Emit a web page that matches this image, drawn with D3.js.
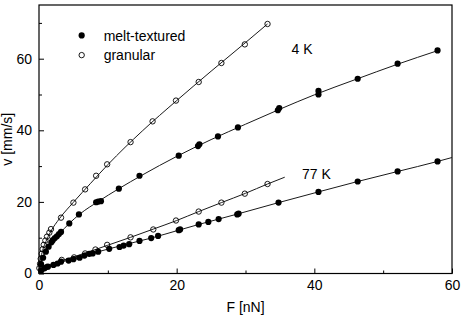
<!DOCTYPE html>
<html>
<head>
<meta charset="utf-8">
<script src="https://cdn.jsdelivr.net/npm/d3@7"></script>
<style>
  body { margin: 0; background: #fff; }
  text { font-family: "Liberation Sans", Arial, Helvetica, sans-serif; fill: #000; }
</style>
</head>
<body>
<svg id="chart" width="463" height="323"></svg>
<script>
// measured points [F nN, v mm/s]
const melt4K = [[0.3,2.6],[0.6,4.4],[1.0,6.1],[1.4,7.5],[1.8,8.7],[2.0,9.3],[2.3,9.9],[2.6,10.4],[2.9,11.0],[3.2,11.6],
  [4.4,14.0],[5.8,16.5],[8.3,19.9],[8.6,20.1],[9.0,20.2],[11.6,23.7],[14.6,27.3],[20.3,32.9],[23.1,35.6],[23.3,36.1],
  [26.0,38.3],[28.9,40.8],[34.7,45.6],[34.9,46.2],[40.6,50.0],[40.6,51.0],[46.3,54.4],[52.1,58.6],[57.9,62.3]];
const granular4K = [[0.05,1.5],[0.15,2.7],[0.25,4.1],[0.39,5.5],[0.53,6.8],[0.68,8.0],[0.92,9.2],[1.16,10.3],[1.5,11.4],
  [1.74,12.4],[3.2,15.6],[5.0,19.8],[6.7,23.5],[8.3,27.3],[9.9,30.5],[13.3,36.7],[16.5,42.5],[19.9,48.3],[23.2,53.5],
  [26.5,58.8],[29.9,64.0],[33.2,69.7]];
const granular77K = [[0.5,1.2],[1.1,1.8],[3.3,3.8],[5.1,4.5],[6.7,5.6],[8.2,6.7],[9.9,8.0],[13.3,10.1],[16.6,12.3],
  [19.9,14.8],[23.2,17.3],[26.5,19.8],[29.9,22.3],[33.2,25.0]];
const melt77K = [[0.3,0.8],[0.8,1.5],[1.3,1.9],[2.1,2.4],[2.7,2.8],[3.2,3.3],[4.3,3.6],[5.0,4.0],[5.9,4.4],[6.6,5.0],
  [7.3,5.5],[7.8,5.6],[8.6,6.1],[10.2,6.9],[11.7,7.4],[12.3,7.8],[13.1,8.2],[14.6,9.1],[16.3,9.9],[17.3,10.5],
  [20.3,12.1],[20.5,12.3],[23.2,13.7],[24.6,14.4],[26.1,15.2],[28.8,16.5],[29.0,16.7],[34.8,19.8],[40.6,22.8],
  [46.3,25.7],[52.1,28.5],[57.9,31.3]];

// fit curves
const fit4KGranular = [[0,0],[0.1,2.2],[0.3,4.6],[0.6,6.9],[1,8.9],[1.7,11.7],[3,15.4],[5,19.9],[7.5,25.2],[10,30.4],
  [15,39.8],[20,48.3],[25,56.5],[30,64.5],[33.2,69.7]];
const fit4KMelt = [[0,0],[0.1,1.5],[0.3,3.2],[0.7,5.3],[1.2,7.2],[2,9.3],[3,11.2],[4.4,14.0],[6,16.7],[8.6,20.1],
  [11.6,23.7],[15,27.5],[20,32.7],[25,37.4],[30,41.7],[35,45.9],[40,49.9],[46,54.2],[52,58.4],[58,62.3]];
const fit77KGranular = [[0,0],[0.3,0.9],[1,1.8],[2,2.7],[3.3,3.6],[5,4.6],[7,5.9],[10,7.9],[13.3,10.1],[16.6,12.4],
  [20,14.8],[23.2,17.3],[26.5,19.8],[30,22.4],[33.2,25.0],[35.7,26.9]];
const fit77KMelt = [[0,0],[0.3,0.8],[1,1.7],[2,2.5],[3.2,3.2],[5,4.1],[7.3,5.4],[10,6.8],[13,8.3],[16.3,9.9],
  [20.3,12.1],[23.2,13.7],[26.1,15.2],[29,16.7],[34.8,19.8],[40.6,22.8],[46.3,25.7],[52.1,28.5],[57.9,31.3],[60,32.4]];

const xMajor = [0, 20, 40, 60];
const xMinor = [10, 30, 50];
const yMajor = [0, 20, 40, 60];
const yMinor = [10, 30, 50, 70];

const legendItems = [
  { label: "melt-textured", filled: true, at: [6.2, 66.5] },
  { label: "granular", filled: false, at: [6.2, 61.0] }
];
const notes = [
  { text: "4 K", at: [36.7, 61.4] },
  { text: "77 K", at: [38.2, 26.4] }
];

const svg = d3.select("#chart");
const mLeft = 39, mRight = 452, mTop = 5, mBottom = 273.5;

const x = d3.scaleLinear().domain([0, 60]).range([mLeft, mRight]);
const y = d3.scaleLinear().domain([0, 75]).range([mBottom, mTop]);

// axes, ticks pointing inward
const gx = svg.append("g").attr("transform", `translate(0,${mBottom})`);
gx.call(d3.axisBottom(x).tickValues(xMajor).tickSize(-5).tickPadding(6.5));
gx.append("g").call(d3.axisBottom(x).tickValues(xMinor).tickSize(-3).tickFormat(""));

const gy = svg.append("g").attr("transform", `translate(${mLeft},0)`);
gy.call(d3.axisLeft(y).tickValues(yMajor).tickSize(-5).tickPadding(7));
gy.append("g").call(d3.axisLeft(y).tickValues(yMinor).tickSize(-3).tickFormat(""));

svg.selectAll(".domain").remove();
svg.selectAll(".tick line").attr("stroke", "#000").attr("stroke-width", 1);
svg.selectAll(".tick text").attr("font-size", 14).attr("font-family", null);

svg.append("rect")
   .attr("x", mLeft).attr("y", mTop)
   .attr("width", mRight - mLeft).attr("height", mBottom - mTop)
   .attr("fill", "none").attr("stroke", "#000").attr("stroke-width", 1.2);

// fit lines
const line = d3.line()
               .x(d => x(d[0]))
               .y(d => y(d[1]))
               .curve(d3.curveMonotoneX);

[fit4KGranular, fit4KMelt, fit77KGranular, fit77KMelt].forEach(f => {
  svg.append("path")
     .attr("d", line(f))
     .attr("fill", "none")
     .attr("stroke", "#1a1a1a")
     .attr("stroke-width", 1);
});

// markers
function filled(data) {
  svg.append("g").selectAll("circle")
     .data(data)
     .enter().append("circle")
     .attr("cx", d => x(d[0]))
     .attr("cy", d => y(d[1]))
     .attr("r", 3.1)
     .attr("fill", "#000");
}
function open(data) {
  svg.append("g").selectAll("circle")
     .data(data)
     .enter().append("circle")
     .attr("cx", d => x(d[0]))
     .attr("cy", d => y(d[1]))
     .attr("r", 2.7)
     .attr("fill", "none")
     .attr("stroke", "#000")
     .attr("stroke-width", 0.9);
}
filled(melt4K);
filled(melt77K);
open(granular4K);
open(granular77K);

// legend
legendItems.forEach(d => {
  const cx = x(d.at[0]), cy = y(d.at[1]);
  svg.append("circle")
     .attr("cx", cx).attr("cy", cy)
     .attr("r", d.filled ? 3.1 : 2.7)
     .attr("fill", d.filled ? "#000" : "none")
     .attr("stroke", d.filled ? "none" : "#000")
     .attr("stroke-width", 0.9);
  svg.append("text")
     .attr("x", cx + 22).attr("y", cy + 5.2)
     .attr("font-size", 14)
     .text(d.label);
});

notes.forEach(d => {
  svg.append("text")
     .attr("x", x(d.at[0])).attr("y", y(d.at[1]))
     .attr("font-size", 14)
     .text(d.text);
});

// axis titles
svg.append("text")
   .attr("x", (mLeft + mRight) / 2).attr("y", 312)
   .attr("text-anchor", "middle")
   .attr("font-size", 14)
   .text("F [nN]");

svg.append("text")
   .attr("transform", `translate(12,${(mTop + mBottom) / 2}) rotate(-90)`)
   .attr("text-anchor", "middle")
   .attr("font-size", 14)
   .text("v [mm/s]");
</script>
</body>
</html>
